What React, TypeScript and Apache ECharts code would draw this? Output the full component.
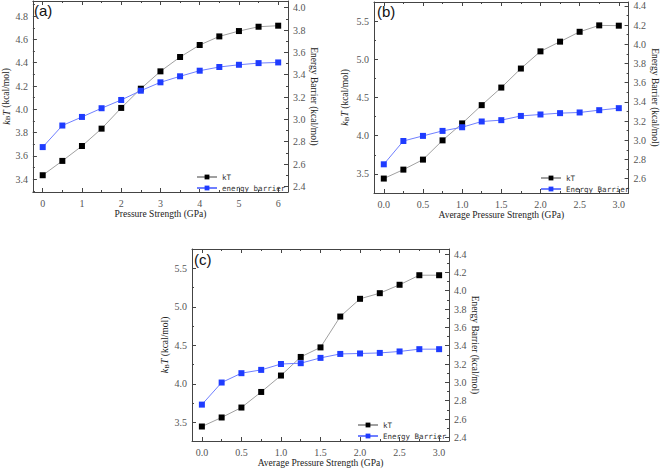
import React, { useEffect, useRef } from 'react';
import * as echarts from 'echarts';

const xA = [0, 0.5, 1, 1.5, 2, 2.5, 3, 3.5, 4, 4.5, 5, 5.5, 6];
const kTA = [3.434, 3.557, 3.685, 3.834, 4.012, 4.177, 4.326, 4.449, 4.552, 4.626, 4.672, 4.709, 4.718];
const ebA = [2.752, 2.945, 3.022, 3.1, 3.174, 3.257, 3.332, 3.386, 3.436, 3.469, 3.489, 3.504, 3.51];

const xB = [0, 0.25, 0.5, 0.75, 1, 1.25, 1.5, 1.75, 2, 2.25, 2.5, 2.75, 3];
const kTB = [3.439, 3.556, 3.687, 3.939, 4.161, 4.4, 4.63, 4.879, 5.104, 5.231, 5.36, 5.444, 5.44];
const ebB = [2.749, 2.992, 3.045, 3.097, 3.135, 3.195, 3.209, 3.253, 3.268, 3.282, 3.289, 3.313, 3.334];

const xC = [0, 0.25, 0.5, 0.75, 1, 1.25, 1.5, 1.75, 2, 2.25, 2.5, 2.75, 3];
const kTC = [3.448, 3.565, 3.694, 3.896, 4.109, 4.35, 4.474, 4.874, 5.104, 5.177, 5.286, 5.41, 5.41];
const ebC = [2.757, 2.998, 3.1, 3.136, 3.2, 3.209, 3.267, 3.31, 3.315, 3.321, 3.337, 3.362, 3.362];

const namesA = ['kT', 'energy barrier'];
const namesBC = ['kT', 'Energy Barrier'];
const panelLabels = ['(a)', '(b)', '(c)'];
const xTitles = ['Pressure Strength (GPa)', 'Average Pressure Strength (GPa)', 'Average Pressure Strength (GPa)'];
const yLeftTitle = '{i|k}{s|B}{i|T} (kcal/mol)';
const yRightTitle = 'Energy Barrier (kcal/mol)';

const AX = '#444';
const LBL = '#555';
const SERIF = '"Liberation Serif", "Times New Roman", serif';

export default function App() {
  const ref = useRef<HTMLDivElement>(null);
  useEffect(() => {
    if (!ref.current) return;
    const chart = echarts.init(ref.current, undefined, { renderer: 'svg' });

    const grids = [
      { left: 32, top: 1, width: 256, height: 191 },
      { left: 374, top: 2, width: 259, height: 191 },
      { left: 192, top: 249, width: 257, height: 192 },
    ];
    const xRanges = [[-0.25, 6.25, 6], [-0.125, 3.125, 6], [-0.125, 3.125, 6]];
    const yLRanges = [[3.29, 4.93, 8], [3.25, 5.75, 5], [3.26, 5.75, 5]];
    const yRRanges = [[2.35, 4.06, 8], [2.45, 4.44, 10], [2.36, 4.455, 10]];
    const xFmt = [
      (v: number) => String(Math.round(v)),
      (v: number) => v.toFixed(1),
      (v: number) => v.toFixed(1),
    ];
    const xNameGap = [16, 17, 17];
    const yLNameGap = [20, 24, 22];
    const yRNameGap = [19, 19, 19];

    const axisCommon = {
      axisLine: { show: true, onZero: false, lineStyle: { color: AX, width: 1 } },
      axisTick: { show: true, inside: true, length: 4, lineStyle: { color: AX } },
      minorTick: { show: true, splitNumber: 2, length: 2, lineStyle: { color: AX } },
      splitLine: { show: false },
      axisLabel: {
        showMinLabel: false,
        showMaxLabel: false,
        fontFamily: SERIF,
        fontSize: 10,
        color: LBL,
        margin: 5,
      },
    };

    const xAxis: any[] = [];
    const yAxis: any[] = [];
    grids.forEach((g, i) => {
      xAxis.push({
        ...axisCommon,
        type: 'value',
        gridIndex: i,
        position: 'bottom',
        min: xRanges[i][0],
        max: xRanges[i][1],
        splitNumber: xRanges[i][2],
        axisLabel: { ...axisCommon.axisLabel, margin: 6, formatter: xFmt[i] },
        name: xTitles[i],
        nameLocation: 'middle',
        nameGap: xNameGap[i],
        nameTextStyle: { fontFamily: SERIF, fontSize: 9.5, color: '#222' },
      });
      xAxis.push({
        ...axisCommon,
        type: 'value',
        gridIndex: i,
        position: 'top',
        min: xRanges[i][0],
        max: xRanges[i][1],
        splitNumber: xRanges[i][2],
        axisLabel: { show: false },
      });
      yAxis.push({
        ...axisCommon,
        type: 'value',
        gridIndex: i,
        position: 'left',
        min: yLRanges[i][0],
        max: yLRanges[i][1],
        splitNumber: yLRanges[i][2],
        axisLabel: { ...axisCommon.axisLabel, formatter: (v: number) => v.toFixed(1) },
        name: yLeftTitle,
        nameLocation: 'middle',
        nameRotate: 90,
        nameGap: yLNameGap[i],
        nameTextStyle: {
          fontFamily: SERIF,
          fontSize: 9.5,
          color: '#222',
          rich: {
            i: { fontFamily: SERIF, fontSize: 10, fontStyle: 'italic', color: '#222' },
            s: { fontFamily: SERIF, fontSize: 7, color: '#222', verticalAlign: 'bottom', padding: [4, 0, 0, 0] },
          },
        },
      });
      yAxis.push({
        ...axisCommon,
        type: 'value',
        gridIndex: i,
        position: 'right',
        min: yRRanges[i][0],
        max: yRRanges[i][1],
        splitNumber: yRRanges[i][2],
        axisLabel: { ...axisCommon.axisLabel, formatter: (v: number) => v.toFixed(1) },
        name: yRightTitle,
        nameLocation: 'middle',
        nameRotate: -90,
        nameGap: yRNameGap[i],
        nameTextStyle: { fontFamily: SERIF, fontSize: 9.5, color: '#222' },
      });
    });

    const sets = [
      { x: xA, kt: kTA, eb: ebA, names: namesA },
      { x: xB, kt: kTB, eb: ebB, names: namesBC },
      { x: xC, kt: kTC, eb: ebC, names: namesBC },
    ];
    const series: any[] = [];
    sets.forEach((s, i) => {
      series.push({
        type: 'line',
        name: s.names[0],
        xAxisIndex: i * 2,
        yAxisIndex: i * 2,
        data: s.x.map((x, j) => [x, s.kt[j]]),
        symbol: 'rect',
        symbolSize: 6,
        itemStyle: { color: '#000' },
        lineStyle: { color: '#a0a0a0', width: 1 },
      });
      series.push({
        type: 'line',
        name: s.names[1],
        xAxisIndex: i * 2,
        yAxisIndex: i * 2 + 1,
        data: s.x.map((x, j) => [x, s.eb[j]]),
        symbol: 'rect',
        symbolSize: 6,
        itemStyle: { color: '#1f3cff' },
        lineStyle: { color: '#6f7fff', width: 1 },
      });
    });

    const legendPos = [
      { left: 191, top: 167 },
      { left: 535, top: 168 },
      { left: 352, top: 415 },
    ];
    const legend = sets.map((s, i) => ({
      ...legendPos[i],
      orient: 'vertical',
      itemWidth: 20,
      itemHeight: 6,
      itemGap: 1,
      data: s.names,
      selectedMode: false,
      textStyle: { fontFamily: '"DejaVu Sans Mono", monospace', fontSize: 7.5, lineHeight: 10, color: '#333' },
    }));

    const labelPos = [
      { left: 34, top: 3 },
      { left: 377, top: 4 },
      { left: 194, top: 252 },
    ];
    const graphic = panelLabels.map((t, i) => ({
      type: 'text',
      ...labelPos[i],
      style: { text: t, fontFamily: '"Liberation Sans", Arial, sans-serif', fontSize: 15, fill: '#111' },
    }));

    chart.setOption({
      animation: false,
      grid: grids.map((g) => ({ ...g, containLabel: false })),
      xAxis,
      yAxis,
      series,
      legend,
      graphic,
    });
    return () => chart.dispose();
  }, []);
  return (
    <div
      ref={ref}
      style={{ position: 'absolute', left: 0, top: 0, width: 661, height: 469, background: '#fff' }}
    />
  );
}
